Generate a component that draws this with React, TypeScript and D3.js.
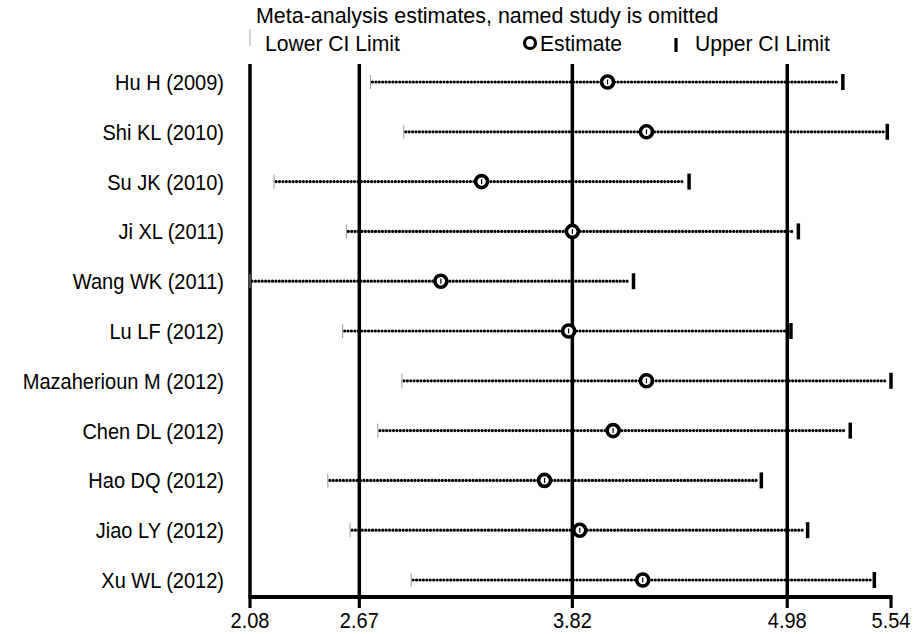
import React from "react";
import * as d3 from "d3";

const studies = [
  "Hu H (2009)",
  "Shi KL (2010)",
  "Su JK (2010)",
  "Ji XL (2011)",
  "Wang WK (2011)",
  "Lu LF (2012)",
  "Mazaherioun M (2012)",
  "Chen DL (2012)",
  "Hao DQ (2012)",
  "Jiao LY (2012)",
  "Xu WL (2012)",
];
const lowerCI = [2.73, 2.91, 2.21, 2.6, 2.08, 2.58, 2.9, 2.77, 2.5, 2.62, 2.95];
const estimate = [4.01, 4.22, 3.33, 3.82, 3.11, 3.8, 4.22, 4.04, 3.67, 3.86, 4.2];
const upperCI = [5.28, 5.52, 4.45, 5.04, 4.15, 5.0, 5.54, 5.32, 4.84, 5.09, 5.45];
const tickValues = [2.08, 2.67, 3.82, 4.98, 5.54];
const refLines = [2.67, 3.82, 4.98];
const title = "Meta-analysis estimates, named study is omitted";
const legendLabels = ["Lower CI Limit", "Estimate", "Upper CI Limit"];

const FONT = "'Liberation Sans', Arial, Helvetica, sans-serif";

function SText({ x, y, size, sx, anchor, children }: any) {
  return (
    <g transform={`translate(${x},${y}) scale(${sx},1)`}>
      <text x={0} y={0} fontSize={size} textAnchor={anchor || "start"} fill="#000">
        {children}
      </text>
    </g>
  );
}

export default function App() {
  const W = 922;
  const H = 634;
  const x = d3.scaleLinear().domain([2.08, 5.54]).range([250, 891]);
  const y = d3.scalePoint<string>().domain(studies).range([82, 580]);
  const top = 64;
  const bottom = 597;

  return (
    <svg
      width={W}
      height={H}
      style={{ position: "absolute", left: 0, top: 0, background: "#fff" }}
      fontFamily={FONT}
    >
      <rect x={0} y={0} width={W} height={H} fill="#fff" />
      {/* title */}
      <SText x={256} y={23} size={22} sx={0.975}>
        {title}
      </SText>
      {/* legend */}
      <line x1={250} x2={250} y1={29} y2={46} stroke="#aaa" strokeWidth={1} />
      <SText x={265} y={51} size={22} sx={0.96}>
        {legendLabels[0]}
      </SText>
      <circle cx={530} cy={43} r={5.5} fill="#fff" stroke="#000" strokeWidth={3.2} />
      <SText x={540} y={51} size={22} sx={0.96}>
        {legendLabels[1]}
      </SText>
      <line x1={676} x2={676} y1={38} y2={52} stroke="#000" strokeWidth={3.2} />
      <SText x={695} y={51} size={22} sx={0.96}>
        {legendLabels[2]}
      </SText>

      {/* left axis and reference lines */}
      <line x1={x(2.08)} x2={x(2.08)} y1={top} y2={bottom} stroke="#000" strokeWidth={3.5} />
      {refLines.map((v) => (
        <line key={v} x1={x(v)} x2={x(v)} y1={top} y2={bottom} stroke="#000" strokeWidth={3.5} />
      ))}

      {/* rows */}
      {studies.map((s, i) => {
        const yy = y(s) as number;
        return (
          <g key={s}>
            <SText x={224} y={yy + 8} size={22} sx={0.91} anchor="end">
              {s}
            </SText>
            <line
              x1={x(lowerCI[i]) + 2}
              x2={x(upperCI[i]) - 4}
              y1={yy}
              y2={yy}
              stroke="#000"
              strokeWidth={3.2}
              strokeDasharray="0.01 3.4"
              strokeLinecap="round"
            />
            <line
              x1={x(lowerCI[i])}
              x2={x(lowerCI[i])}
              y1={yy - 7}
              y2={yy + 7}
              stroke="#999"
              strokeWidth={1}
            />
            <line
              x1={x(upperCI[i])}
              x2={x(upperCI[i])}
              y1={yy - 8}
              y2={yy + 8}
              stroke="#000"
              strokeWidth={3.5}
            />
            <circle cx={x(estimate[i])} cy={yy} r={6} fill="#fff" stroke="#000" strokeWidth={3.6} />
            <line
              x1={x(estimate[i])}
              x2={x(estimate[i])}
              y1={yy - 2.5}
              y2={yy + 2.5}
              stroke="#000"
              strokeWidth={1.2}
            />
          </g>
        );
      })}

      {/* bottom axis */}
      <line x1={x(2.08) - 1.5} x2={x(5.54) + 1.5} y1={bottom} y2={bottom} stroke="#000" strokeWidth={4} />
      {tickValues.map((t) => (
        <g key={t}>
          <line x1={x(t)} x2={x(t)} y1={bottom} y2={bottom + 11} stroke="#000" strokeWidth={3.2} />
          <SText x={x(t)} y={628} size={21.5} sx={0.93} anchor="middle">
            {t.toFixed(2)}
          </SText>
        </g>
      ))}
    </svg>
  );
}
